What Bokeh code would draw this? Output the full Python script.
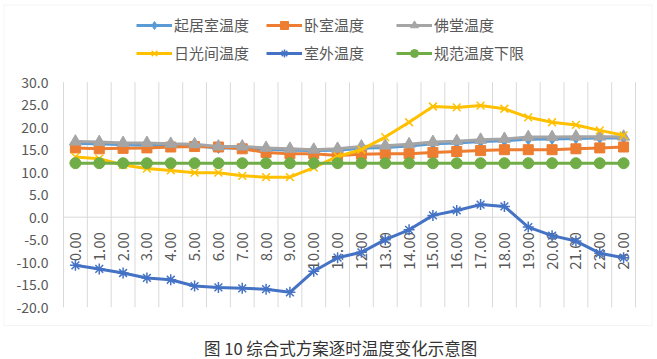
import math
from bokeh.plotting import figure
from bokeh.models import (Range1d, Legend, LegendItem, BoxAnnotation, Label,
                          ColumnDataSource)
from bokeh.core.properties import value
from bokeh.embed import file_html
from bokeh.resources import INLINE

hours = ["%d.00" % h for h in range(24)]
living = [16.4, 16.3, 16.1, 16.0, 16.0, 15.9, 15.4, 15.4, 15.1, 14.9, 14.8, 14.9,
          15.3, 15.5, 15.8, 16.3, 16.5, 16.8, 17.0, 17.3, 17.4, 17.5, 17.6, 17.6]
bedroom = [15.4, 15.2, 15.3, 15.4, 15.6, 15.7, 15.6, 15.2, 14.4, 14.1, 14.1, 13.7,
           14.0, 14.1, 14.1, 14.4, 14.6, 14.8, 15.0, 15.0, 15.0, 15.2, 15.4, 15.6]
shrine = [16.8, 16.7, 16.5, 16.5, 16.3, 16.2, 15.7, 15.7, 15.4, 15.2, 15.0, 15.2,
          15.7, 15.9, 16.2, 16.7, 16.9, 17.2, 17.4, 17.8, 17.8, 17.9, 17.9, 17.9]
sunroom = [13.4, 13.0, 11.6, 10.8, 10.4, 9.9, 9.9, 9.2, 8.9, 8.9, 11.0, 13.5,
           15.0, 17.8, 21.1, 24.6, 24.4, 24.8, 24.1, 22.2, 21.1, 20.5, 19.3, 18.2]
outdoor = [-10.7, -11.5, -12.4, -13.5, -13.9, -15.3, -15.6, -15.8, -16.0, -16.7, -12.0, -9.0,
           -7.8, -5.0, -2.8, 0.4, 1.5, 2.8, 2.4, -2.2, -4.1, -5.3, -8.0, -9.0]
standard = [12.0] * 24

series_names = ["起居室温度", "卧室温度", "佛堂温度", "日光间温度", "室外温度", "规范温度下限"]
series_values = [living, bedroom, shrine, sunroom, outdoor, standard]
colors = ["#5B9BD5", "#ED7D31", "#A5A5A5", "#FFC000", "#4472C4", "#70AD47"]
markers = ["diamond", "square", "triangle", "x", "asterisk", "circle"]
sizes = [11, 10, 12, 11, 11, 11]
y_ticks = [-20, -15, -10, -5, 0, 5, 10, 15, 20, 25, 30]
y_tick_labels = ["%.1f" % t for t in y_ticks]
caption = "图 10  综合式方案逐时温度变化示意图"

FONT = "Noto Sans CJK SC"
GRAY = "#595959"
GRID = "#D9D9D9"

W, H = 657, 359
# plot-area placement (pixels) -> data ranges covering the whole canvas
PX0, PX1, PY_TOP, PY_BOT = 63.0, 635.0, 81.7, 306.7
NCAT = len(hours)
YMIN, YMAX = -20.0, 30.0
kx = (PX1 - PX0) / NCAT
ky = (PY_BOT - PY_TOP) / (YMAX - YMIN)


def dx(px):
    return (px - PX0) / kx


def dy(py):
    return YMAX - (py - PY_TOP) / ky


p = figure(width=W, height=H, output_backend="svg", toolbar_location=None,
           x_range=Range1d(dx(0), dx(W)), y_range=Range1d(dy(H), dy(0)),
           min_border=0)
p.outline_line_color = None
p.background_fill_color = "white"
p.border_fill_color = "white"
p.xaxis.visible = False
p.yaxis.visible = False
p.grid.visible = False

# chart border
p.add_layout(BoxAnnotation(left=dx(3.5), right=dx(651.5), top=dy(4.5), bottom=dy(325),
                           fill_alpha=0, line_color=GRID, line_width=1))

# vertical grid between categories
bounds = list(range(NCAT + 1))
p.segment(x0=bounds, y0=[YMIN] * len(bounds), x1=bounds, y1=[YMAX] * len(bounds),
          line_color=GRID, line_width=1)
# category axis line at 0
p.segment(x0=[0], y0=[0], x1=[NCAT], y1=[0], line_color=GRID, line_width=1)

# y tick labels
p.text(x=[0] * len(y_ticks), y=y_ticks, text=y_tick_labels, x_offset=-15,
       text_align="right", text_baseline="middle", text_font=value(FONT),
       text_font_size="14px", text_color=GRAY)

xs = [i + 0.5 for i in range(NCAT)]
p.text(x=xs, y=[0] * NCAT, text=hours, angle=math.pi / 2, text_align="right",
       text_baseline="middle", y_offset=15, text_font=value(FONT),
       text_font_size="15px", text_color=GRAY)

items = []
for name, vals, col, mk, sz in zip(series_names, series_values, colors, markers, sizes):
    src = ColumnDataSource(dict(x=xs, y=vals))
    lr = p.line("x", "y", source=src, line_color=col, line_width=3)
    sr = p.scatter("x", "y", source=src, marker=mk, size=sz, fill_color=col,
                   line_color=col, line_width=1.5 if mk in ("x", "asterisk") else 1)
    items.append(LegendItem(label=name, renderers=[lr, sr]))

# three legend columns, each with two rows (row-major order of the items)
col_left = [136, 266, 396]
for c in range(3):
    leg = Legend(items=[items[c], items[c + 3]], location=(col_left[c], H - 63),
                 glyph_width=36, glyph_height=20, label_height=20,
                 label_standoff=2, spacing=7, padding=0, margin=0,
                 border_line_color=None, background_fill_alpha=0,
                 label_text_font=FONT, label_text_font_size="15px",
                 label_text_color=GRAY)
    p.add_layout(leg)

p.add_layout(Label(x=dx(342), y=dy(347), text=caption,
                   text_align="center", text_baseline="middle",
                   text_font=FONT, text_font_size="16.5px", text_color="#333333"))

open("out.html", "w").write(file_html(p, INLINE))
